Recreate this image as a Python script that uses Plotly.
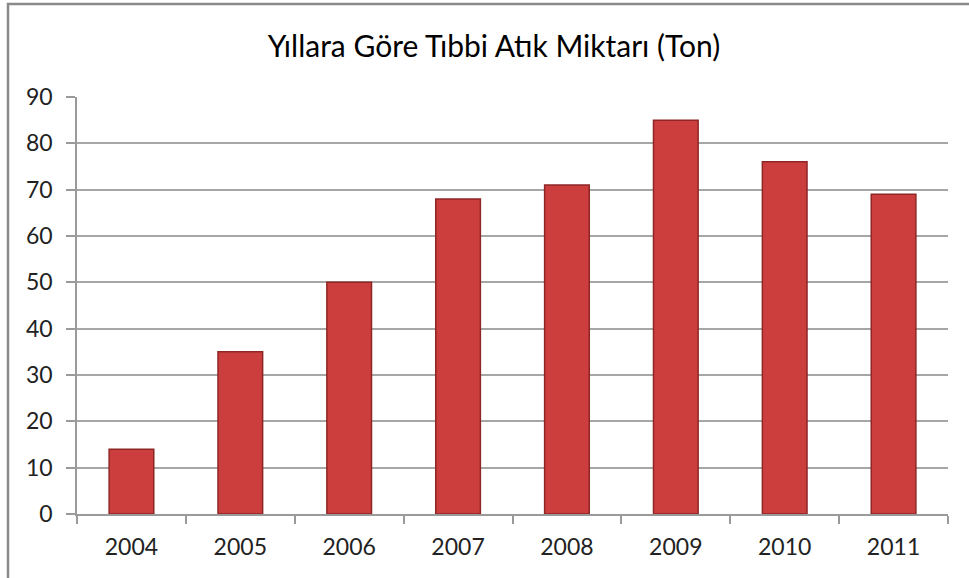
import plotly.graph_objects as go

years = ["2004", "2005", "2006", "2007", "2008", "2009", "2010", "2011"]
values = [14, 35, 50, 68, 71, 85, 76, 69]
y_ticks = [0, 10, 20, 30, 40, 50, 60, 70, 80, 90]

W, H = 969, 578
L, R, T, B = 77, 21, 97, 64

fig = go.Figure()
fig.add_trace(go.Bar(
    x=years, y=values,
    marker=dict(color="#cc3e3e", line=dict(color="#8e2626", width=1.5)),
    width=0.41,
))

pw = W - L - R
ph = H - T - B
def px_x(p): return (p - L) / pw
def px_y(p): return (H - B - p) / ph

fig.add_shape(type="rect", xref="paper", yref="paper",
              x0=px_x(8), x1=px_x(990), y0=px_y(4), y1=px_y(600),
              line=dict(color="#8a8a8a", width=2.5), fillcolor="rgba(0,0,0,0)", layer="below")

FONT = "Lato"
fig.update_layout(
    width=W, height=H,
    margin=dict(l=L, r=R, t=T, b=B),
    plot_bgcolor="white", paper_bgcolor="white",
    showlegend=False,
    title=dict(text="Yıllara Göre Tıbbi Atık Miktarı (Ton)", x=494 / W, xanchor="center",
               xref="container",
               y=1 - 46 / H, yanchor="middle",
               font=dict(family=FONT, size=30, color="#000000")),
    font=dict(family=FONT, size=23, color="#222222"),
    xaxis=dict(showline=True, linecolor="#9a9a9a", linewidth=1.5,
               ticks="outside", tickson="boundaries", ticklen=8, tickcolor="#9a9a9a",
               tickwidth=1.5, showgrid=False, tickfont=dict(size=23),
               ticklabelstandoff=12),
    yaxis=dict(range=[0, 90], tickvals=y_ticks, showline=True, linecolor="#9a9a9a", linewidth=1.5,
               ticks="outside", ticklen=9, tickcolor="#9a9a9a", tickwidth=1.5,
               showgrid=True, gridcolor="#a6a6a6", gridwidth=1.5, zeroline=False,
               tickfont=dict(size=23), ticklabelstandoff=9),
)

fig.write_html("out.html", config={"displayModeBar": False},
               post_script="document.body.style.margin='0';")
